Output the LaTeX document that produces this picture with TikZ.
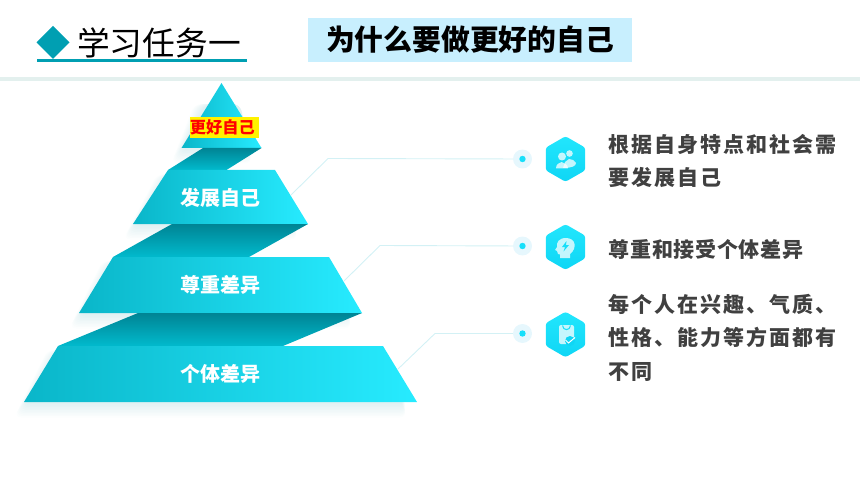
\documentclass[tikz,border=0pt]{standalone}
\usepackage{fontspec}
\usetikzlibrary{shapes.geometric}
\setmainfont{Noto Sans CJK SC}
\newfontfamily\cjkwide[LetterSpace=9.3]{Noto Sans CJK SC}
\newfontfamily\cjkmid[LetterSpace=3.2]{Noto Sans CJK SC}
\definecolor{tealdark}{HTML}{009FB2}
\definecolor{tierleft}{HTML}{0AB6C9}
\definecolor{tierright}{HTML}{27EBFF}
\definecolor{foldtop}{HTML}{008494}
\definecolor{foldbottom}{HTML}{01BACD}
\definecolor{hexcyan}{HTML}{17DFFA}
\definecolor{hextop}{HTML}{22E6FD}
\definecolor{hexbottom}{HTML}{0FD6F5}
\definecolor{leadcyan}{HTML}{D3F1F5}
\definecolor{rulegrey}{HTML}{E3F0EE}
\definecolor{boxblue}{HTML}{C8EFFE}
\tikzset{
	tier/.style={left color=tierleft, right color=tierright, draw=none},
	fold/.style={top color=foldtop, bottom color=foldbottom, draw=none},
	softshadow/.style={fill=foldtop, opacity=0.012, draw=none, rounded corners=7pt},
	tierlabel/.style={text=white, font=\bfseries\fontsize{20}{24}\selectfont, inner sep=0},
	sidetext/.style={text=black!75, anchor=west, align=left, inner sep=0},
	lead/.style={draw=leadcyan, line width=0.9pt},
	halo/.style={circle, fill=cyan!10, minimum size=19pt, inner sep=0},
	hexbox/.style={regular polygon, regular polygon sides=6, shape border rotate=30, minimum size=45.5pt, inner sep=0, rounded corners=2.5pt, top color=hextop, bottom color=hexbottom},
	iconpart/.style={fill=white, fill opacity=0.75, draw=none}
}
% blurred patch under a trapezoid: top y, bottom y, then the four x values
\def\softpatch(#1,#2)(#3,#4,#5,#6){
	\foreach \g in {0,...,9}{
		\fill[softshadow] (#3-\g*1.2, #1+4) -- (#4, #1+4) -- (#6-10, #2+2+\g*1.5) -- (#5-\g*1.1, #2+2+\g*1.5) -- cycle;
	}
}

\begin{document}
\begin{tikzpicture}[x=1pt, y=-1pt]
	%%%%% START %%%%%
	\useasboundingbox (0, 0) rectangle (860, 484);
	
	% heading
	\fill[tealdark] (53, 26) -- (69.5, 42.5) -- (53, 59) -- (36.5, 42.5) -- cycle;
	\node[anchor=west, inner sep=0, font=\fontsize{32.7}{36}\selectfont, text=black] (task) at (77, 43) {学习任务一};
	\fill[tealdark] (36.5, 59.5) rectangle (247, 62.5);
	\node[fill=boxblue, minimum width=324pt, minimum height=44pt, inner sep=0, font=\bfseries\fontsize{28.8}{32}\selectfont] (why) at (470, 40) {为什么要做更好的自己};
	\fill[rulegrey] (0, 77) rectangle (860, 81);
	
	% leaders behind the pyramid
	\coordinate (foot1) at (291, 195);
	\coordinate (bend1) at (328, 158.5);
	\coordinate (foot2) at (344, 281);
	\coordinate (bend2) at (380, 245.5);
	\coordinate (foot3) at (398, 369);
	\coordinate (bend3) at (435, 333.5);
	\node[halo] (dot1) at (522.5, 159) {};
	\node[halo] (dot2) at (522.5, 246) {};
	\node[halo] (dot3) at (522.5, 333.5) {};
	\foreach \n in {1,2,3}{
		\draw[lead] (foot\n) -- (bend\n) -- (dot\n);
		\fill[hexcyan] (dot\n) circle (3.2);
	}
	
	% pyramid
	\softpatch(100,148)(205,240,181,262)
	\softpatch(170,224)(168,275,133,308)
	\softpatch(257,313)(113,329,79,362)
	\softpatch(346,402)(58,383,24,417)
	
	\shade[tier] (221.5, 83) -- (261.5, 148) -- (181.5, 148) -- cycle;
	\shade[fold] (203, 148) -- (261.5, 148) -- (226.5, 170) -- (168, 170) -- cycle;
	\shade[tier] (168, 170) -- (275, 170) -- (308, 224) -- (133, 224) -- cycle;
	\shade[fold] (172, 224) -- (308, 224) -- (249, 257) -- (113, 257) -- cycle;
	\shade[tier] (113, 257) -- (329, 257) -- (362, 313) -- (79, 313) -- cycle;
	\shade[fold] (138, 313) -- (362, 313) -- (283, 346) -- (58, 346) -- cycle;
	\shade[tier] (58, 346) -- (383, 346) -- (417, 402) -- (24, 402) -- cycle;
	
	\node[fill=yellow, text=red, anchor=west, minimum height=20.6pt, inner sep=0, font=\bfseries\fontsize{16.2}{18}\selectfont] (best) at (189.7, 127.3) {更好自己\hspace{4.5pt}\null};
	\node[tierlabel] (grow) at (220.5, 197.5) {发展自己};
	\node[tierlabel] (respect) at (220.5, 285) {尊重差异};
	\node[tierlabel] (differ) at (220.5, 374) {个体差异};
	
	% hexagons
	\node[hexbox] (hex1) at (565.5, 159) {};
	\node[hexbox] (hex2) at (565.5, 247) {};
	\node[hexbox] (hex3) at (565.5, 334.5) {};
	
	% people
	\fill[iconpart] (569.5, 153.5) circle (3.3);
	\fill[iconpart] (563, 168) .. controls (572, 168) and (576, 166) .. (576, 163) .. controls (575, 160) and (572, 159.5) .. (569, 159) -- (565, 162) -- cycle;
	\fill[iconpart] (562, 156.5) circle (4);
	\fill[iconpart] (556, 168.5) .. controls (556, 164) and (559, 163) .. (561.5, 162) .. controls (564, 163) and (568, 164) .. (568, 168.5) -- cycle;
	
	% head with bolt
	\fill[iconpart] (566, 238) .. controls (559, 238) and (556.5, 242) .. (557, 247) -- (555, 250) -- (557, 251) -- (558, 254) -- (560, 254.5) -- (560, 258) -- (570, 258) -- (570, 254) .. controls (574, 251) and (575, 247) .. (574.5, 244) .. controls (574, 240) and (570, 238) .. (566, 238) -- cycle;
	\fill[hexcyan] (566.5, 241) -- (562, 247) -- (565, 247) -- (563.5, 251.5) -- (569, 245) -- (566, 245) -- cycle;
	
	% clipboard with tick
	\fill[iconpart, rounded corners=2pt] (559, 325) rectangle (574, 344);
	\draw[hexcyan, line width=1pt] (562.5, 325.5) .. controls (563, 331) and (570, 331) .. (570.5, 325.5);
	\fill[hexbottom] (570, 341) circle (5);
	\draw[white, line width=1pt] (565.5, 340) -- (568.5, 343) -- (575, 337.5);
	
	% texts
	\node[sidetext, font=\cjkwide\bfseries\fontsize{21}{33.5}\selectfont] (why1) at (608.5, 161) {根据自身特点和社会需\\要发展自己};
	\node[sidetext, font=\cjkmid\bfseries\fontsize{21}{33.5}\selectfont] (why2) at (608.5, 249.5) {尊重和接受个体差异};
	\node[sidetext, font=\cjkwide\bfseries\fontsize{21}{33.5}\selectfont] (why3) at (608.5, 337.5) {每个人在兴趣、气质、\\性格、能力等方面都有\\不同};
	%%%%% END %%%%%
\end{tikzpicture}
\end{document}
